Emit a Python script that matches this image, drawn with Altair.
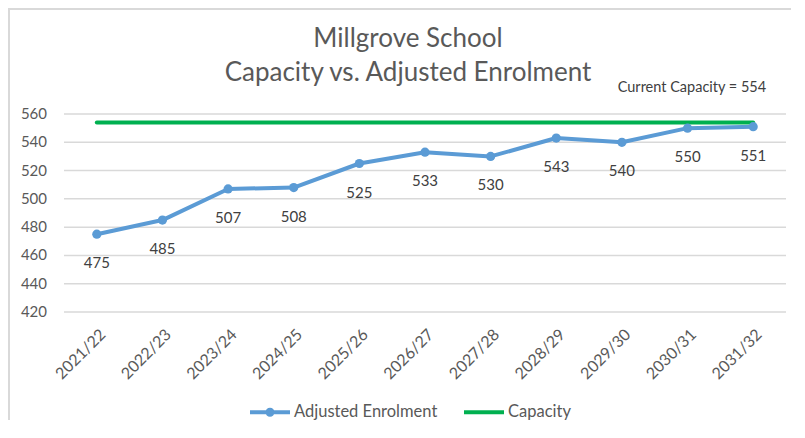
import altair as alt
import pandas as pd

years = ["2021/22", "2022/23", "2023/24", "2024/25", "2025/26", "2026/27",
         "2027/28", "2028/29", "2029/30", "2030/31", "2031/32"]
enrolment = [475, 485, 507, 508, 525, 533, 530, 543, 540, 550, 551]
capacity_value = 554
capacity = [capacity_value] * len(years)
series_names = ["Adjusted Enrolment", "Capacity"]
series_colors = ["#5B9BD5", "#00B050"]
y_ticks = [420, 440, 460, 480, 500, 520, 540, 560]

FONT = "Lato"
TXT = "#595959"

wide = pd.DataFrame({"year": years, "enrolment": enrolment, "capacity": capacity})
long = pd.concat([
    pd.DataFrame({"year": years, "value": enrolment, "series": series_names[0]}),
    pd.DataFrame({"year": years, "value": capacity, "series": series_names[1]}),
])
ticks_df = pd.DataFrame({"tick": y_ticks})

x_axis = alt.Axis(labelAngle=315, labelFont=FONT, labelFontSize=16,
                  labelColor=TXT, ticks=False, domain=False, grid=False,
                  labelPadding=14, labelOverlap=False)
x_scale = alt.Scale(type="point", padding=0.5)
y_scale = alt.Scale(domain=[420, 560], nice=False, zero=False)


def X():
    return alt.X("year:N", sort=years, title=None, scale=x_scale, axis=x_axis)


def Y(field):
    return alt.Y(field, scale=y_scale, title=None, axis=None)


# horizontal gridlines and value labels of the y scale
grid = alt.Chart(ticks_df).mark_rule(color="#D9D9D9", strokeWidth=1.5).encode(
    y=Y("tick:Q"))
ylabels = alt.Chart(ticks_df).mark_text(align="right", baseline="middle", dx=-17,
                                        font=FONT, fontSize=15, color=TXT).encode(
    x=alt.value(0), y=Y("tick:Q"), text="tick:Q")

base = alt.Chart(long)

lines = base.mark_line(strokeWidth=4, strokeCap="round", strokeJoin="round").encode(
    x=X(), y=Y("value:Q"),
    color=alt.Color("series:N", scale=alt.Scale(domain=series_names, range=series_colors),
                    legend=None),
    detail="series:N",
)

pts = alt.Chart(wide).mark_circle(size=85, opacity=1, color=series_colors[0]).encode(
    x=X(), y=Y("enrolment:Q")
)

labels = alt.Chart(wide).mark_text(dy=29, font=FONT, fontSize=15, color="#404040").encode(
    x=X(), y=Y("enrolment:Q"), text="enrolment:Q",
)

enrol_path = ("M-1,-0.1H1V0.1H-1Z M0.225,0A0.225,0.225,0,1,1,-0.225,0"
              "A0.225,0.225,0,1,1,0.225,0Z")
cap_path = "M-1,-0.1H1V0.1H-1Z"

leg_props = dict(title=None, orient="none", direction="horizontal",
                 legendX=186, legendY=278, symbolOpacity=1,
                 symbolSize=1600, symbolStrokeWidth=0,
                 labelFont=FONT, labelFontSize=16.5, labelColor=TXT,
                 columnPadding=26, labelOffset=4)

# legend-only layer: its points are placed off-canvas, only the legend is seen
legend_layer = base.mark_point(filled=True, opacity=1).encode(
    x=alt.value(-3000), y=alt.value(100),
    fill=alt.Fill("series:N", scale=alt.Scale(domain=series_names, range=series_colors),
                  legend=alt.Legend(**leg_props)),
    shape=alt.Shape("series:N", scale=alt.Scale(domain=series_names,
                                                range=[enrol_path, cap_path]),
                    legend=alt.Legend(**leg_props)),
)

annot_df = pd.DataFrame({"year": [years[-1]], "value": [capacity_value],
                         "label": [f"Current Capacity = {capacity_value}"]})
annot = alt.Chart(annot_df).mark_text(align="right", dx=13, dy=-34, font=FONT,
                                      fontSize=14.5, color="#404040").encode(
    x=X(), y=Y("value:Q"), text="label:N"
)

# chart-area border (only its top and left edges are visible in the reference)
frame_df = pd.DataFrame({"k": [0]})
frame_left = alt.Chart(frame_df).mark_rule(color="#D9D9D9", strokeWidth=2).encode(
    x=alt.value(-55), y=alt.value(-106), y2=alt.value(330))
frame_top = alt.Chart(frame_df).mark_rule(color="#D9D9D9", strokeWidth=2).encode(
    x=alt.value(-56), x2=alt.value(733), y=alt.value(-105))

chart = alt.layer(frame_left, frame_top, grid, ylabels, lines, pts, labels, annot,
                  legend_layer).properties(
    width=722, height=198,
    title=alt.Title(["Millgrove School", "Capacity vs. Adjusted Enrolment"],
                    font=FONT, fontSize=26, fontWeight="normal", color=TXT,
                    lineHeight=34, anchor="middle", dx=-17, offset=-79, frame="group"),
    autosize=alt.AutoSizeParams(type="none"),
    padding={"left": 56, "top": 106, "right": 5, "bottom": 108},
).resolve_scale(color="independent").configure_view(stroke=None)

chart.save("out.html", embed_options={"renderer": "svg", "actions": False})
